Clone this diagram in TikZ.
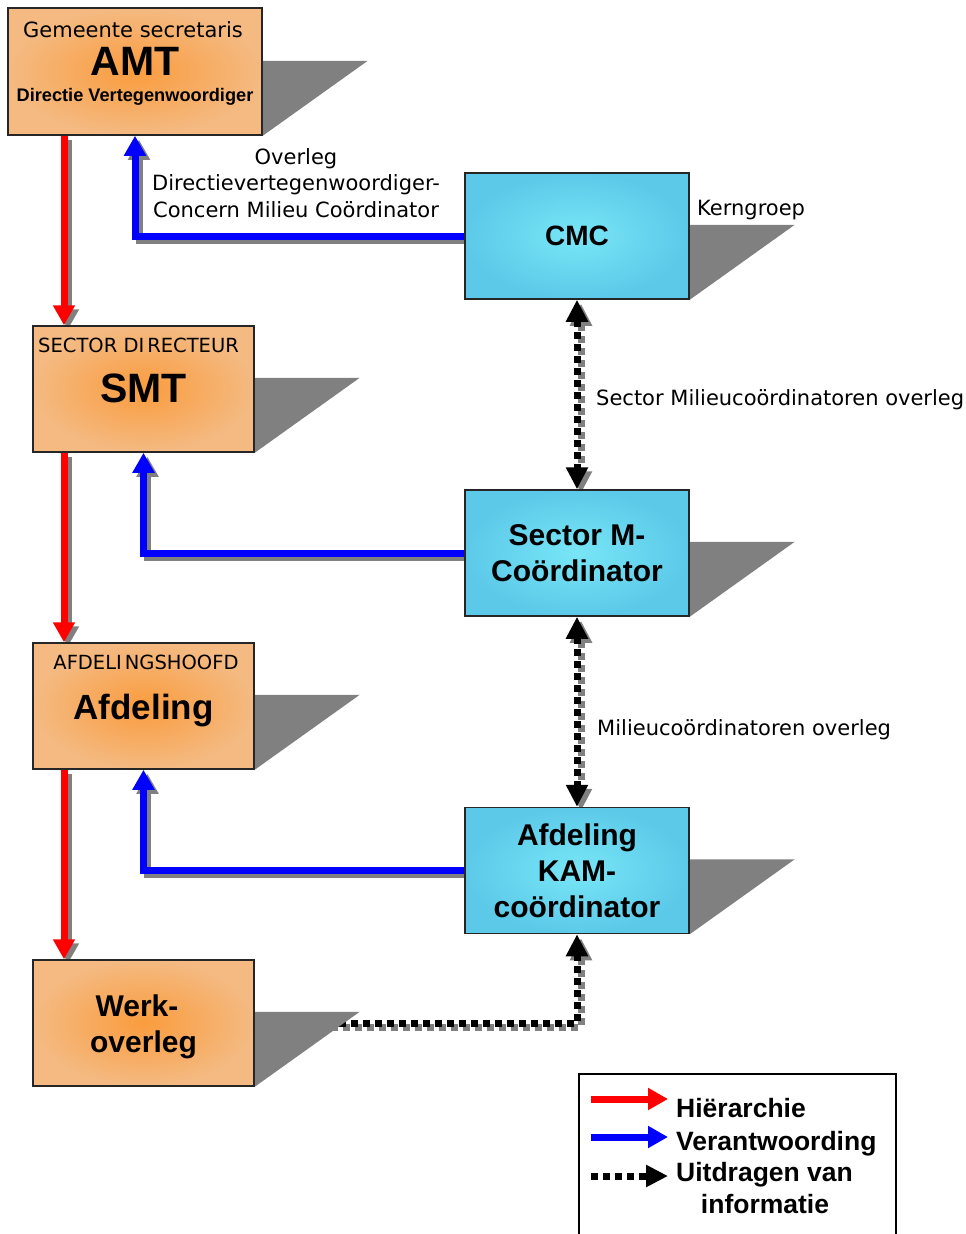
\documentclass[tikz,border=0pt]{standalone}
\usepackage{fontspec}
\setmainfont{DejaVu Sans}
\newfontfamily\arialfam{Liberation Sans}
\usetikzlibrary{arrows.meta,backgrounds}

\definecolor{oranjerand}{RGB}{244,186,130}
\definecolor{oranjekern}{RGB}{250,156,62}
\definecolor{blauwrand}{RGB}{92,201,233}
\definecolor{blauwkern}{RGB}{120,230,246}
\definecolor{schaduw}{RGB}{128,128,128}

\newcommand{\klein}{\fontsize{21}{26.5}\selectfont}
\newcommand{\kapitaal}{\fontsize{19.5}{24}\selectfont}
\newcommand{\groot}{\arialfam\bfseries\fontsize{41}{48}\selectfont}
\newcommand{\midden}{\arialfam\bfseries\fontsize{30}{36}\selectfont}
\newcommand{\legtxt}{\arialfam\bfseries\fontsize{26.5}{32.5}\selectfont}
\newcommand{\metschaduw}[2]{\draw[#1,schaduwlijn] #2; \draw[#1] #2;}

\tikzset{
  oranjebox/.style={draw=black!85, line width=1.5pt, inner color=oranjekern, outer color=oranjerand,
    minimum width=221pt, minimum height=126pt, inner sep=0pt},
  blauwbox/.style={draw=black!85, line width=1.5pt, inner color=blauwkern, outer color=blauwrand,
    minimum width=224pt, minimum height=126pt, inner sep=0pt},
  hier/.style={draw=red, line width=7pt, -{Triangle[length=20pt,width=21pt]}},
  verant/.style={draw=blue, line width=7pt, -{Triangle[length=20pt,width=21pt]}},
  info/.style={draw=black, line width=7pt, dash pattern=on 7pt off 5pt, -{Triangle[length=22pt,width=21pt]}},
  infotwee/.style={info, {Triangle[length=22pt,width=21pt]}-{Triangle[length=22pt,width=21pt]}},
  schaduwlijn/.style={draw=schaduw, transform canvas={shift={(4pt,-4pt)}}},
  tekst/.style={inner sep=0pt},
}

\begin{document}
\begin{tikzpicture}[x=1pt,y=-1pt]
  \useasboundingbox (0,0) rectangle (966,1234);

  % linker kolom
  \node[oranjebox, minimum width=254pt, minimum height=127pt] (amt) at (135,71.5) {};
  \node[oranjebox] (smt) at (143.5,389) {};
  \node[oranjebox] (afd) at (143.5,706) {};
  \node[oranjebox] (werk) at (143.5,1023) {};

  % rechter kolom
  \node[blauwbox, font=\arialfam\bfseries\fontsize{28}{32}\selectfont] (cmc) at (577,236) {CMC};
  \node[blauwbox, align=center, font=\midden] (smc) at (577,553) {Sector M-\\Coördinator};
  \node[blauwbox, align=center, font=\midden] (kam) at (577,870.5) {Afdeling\\KAM-\\coördinator};

  % teksten in de vakken
  \node[tekst, anchor=base] (amt-kop) at (133,37) {\klein Gemeente secretaris};
  \node[tekst, anchor=base] (amt-naam) at (135,75) {\groot AMT};
  \node[tekst, anchor=base] (amt-dv) at (135,101) {\arialfam\bfseries\fontsize{18.2}{22}\selectfont Directie Vertegenwoordiger};
  \node[tekst, anchor=base west] (smt-kop) at (38,352) {\kapitaal SECTOR DI\kern3pt RECTEUR};
  \node[tekst, anchor=base] (smt-naam) at (143.5,402) {\groot SMT};
  \node[tekst, anchor=base] (afd-kop) at (146,669) {\kapitaal AFDELI\kern3pt NGSHOOFD};
  \node[tekst, anchor=base] (afd-naam) at (143.5,719) {\arialfam\bfseries\fontsize{35}{40}\selectfont Afdeling};
  \node[tekst, anchor=base] (werk-1) at (137,1016) {\midden Werk-};
  \node[tekst, anchor=base] (werk-2) at (143.5,1052) {\midden overleg};

  % losse teksten
  \node[tekst, align=center, font=\klein] (overleg) at (296,183)
    {Overleg\\Directievertegenwoordiger-\\Concern Milieu Coördinator};
  \node[tekst, anchor=base west] (kern) at (697,215) {\klein Kerngroep};
  \node[tekst, anchor=base west] (smo) at (596,405) {\klein Sector Milieucoördinatoren overleg};
  \node[tekst, anchor=base west] (mco) at (597,735) {\klein Milieucoördinatoren overleg};

  \coordinate (hierx) at (64,0);

  \begin{pgfonlayer}{background}
    % hierarchie
    \metschaduw{hier}{(amt.south -| hierx) -- (smt.north -| hierx)}
    \metschaduw{hier}{(smt.south -| hierx) -- (afd.north -| hierx)}
    \metschaduw{hier}{(afd.south -| hierx) -- (werk.north -| hierx)}
    % verantwoording
    \metschaduw{verant}{(cmc.west) -| (amt.south)}
    \metschaduw{verant}{(smc.west) -| (smt.south)}
    \metschaduw{verant}{(kam.west) -| (afd.south)}
    % informatie
    \metschaduw{infotwee}{(cmc.south) -- (smc.north)}
    \metschaduw{infotwee}{(smc.south) -- (kam.north)}
    \metschaduw{info}{(werk.east) -| (kam.south)}
    % schaduwen van de vakken
    \foreach \v in {amt,smt,afd,werk,cmc,smc,kam}
      \fill[schaduw] (\v.south east) -- ++(0,-75) -- ++(105,0) -- cycle;
  \end{pgfonlayer}

  % legenda
  \draw[line width=1.5pt] (579,1240) -- (579,1074) -- (896,1074) -- (896,1240);
  \coordinate (l1a) at (591,1099); \coordinate (l1b) at (668,1099);
  \coordinate (l2a) at (591,1137); \coordinate (l2b) at (668,1137);
  \coordinate (l3a) at (591,1176); \coordinate (l3b) at (668,1176);
  \draw[hier] (l1a) -- (l1b);
  \draw[verant] (l2a) -- (l2b);
  \draw[info] (l3a) -- (l3b);
  \node[tekst, anchor=base west] (leg-h) at (676,1117) {\legtxt Hiërarchie};
  \node[tekst, anchor=base west] (leg-v) at (676,1150) {\legtxt Verantwoording};
  \node[tekst, anchor=base west] (leg-u) at (676,1181) {\legtxt Uitdragen van};
  \node[tekst, anchor=base] (leg-i) at (765,1213) {\legtxt informatie};
\end{tikzpicture}
\end{document}
